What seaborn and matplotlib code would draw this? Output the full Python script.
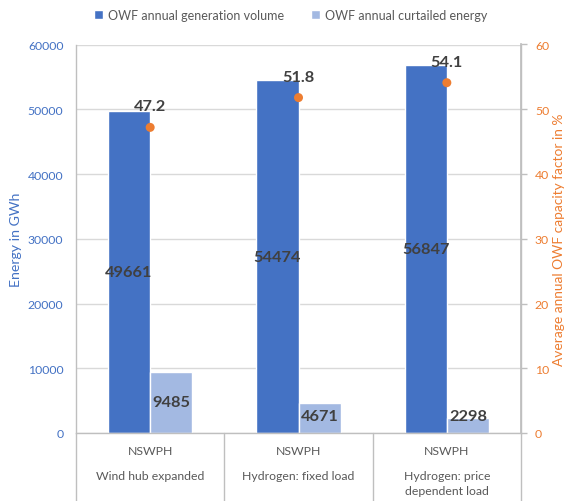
import matplotlib
matplotlib.use("Agg")
import matplotlib.pyplot as plt
import matplotlib.transforms as mtransforms
from matplotlib.lines import Line2D
from matplotlib.patches import Patch
import pandas as pd
import seaborn as sns

# --- data -------------------------------------------------------------
scenarios = ["Wind hub expanded", "Hydrogen: fixed load", "Hydrogen: price\ndependent load"]
hub_name = ["NSWPH", "NSWPH", "NSWPH"]
generation = [49661, 54474, 56847]          # GWh
curtailed = [9485, 4671, 2298]              # GWh
capacity_factor = [47.2, 51.8, 54.1]        # %
series_names = ["OWF annual generation volume", "OWF annual curtailed energy"]

# --- style ------------------------------------------------------------
sns.set_theme(style="white")
plt.rcParams["font.family"] = ["Lato", "DejaVu Sans"]

BLUE = "#4472C4"
LIGHT = "#A3B9E2"
ORANGE = "#ED7D31"
GRID = "#D9D9D9"
AXIS = "#BFBFBF"
TXT = "#595959"
LBL = "#404040"

df = pd.DataFrame({
    "scenario": scenarios * 2,
    "series": [series_names[0]] * 3 + [series_names[1]] * 3,
    "energy": generation + curtailed,
})

fig = plt.figure(figsize=(5.70, 5.02), dpi=100)
ax = fig.add_axes([76 / 570, 1 - 434 / 502, (521 - 76) / 570, (434 - 45.5) / 502])

sns.barplot(data=df, x="scenario", y="energy", hue="series", order=scenarios,
            hue_order=series_names, palette=[BLUE, LIGHT], width=0.57, gap=0,
            saturation=1, ax=ax, legend=False, errorbar=None)

ax.set_xlim(-0.5, 2.5)
ax.set_ylim(0, 60000)
ax.set_yticks(range(0, 60001, 10000))
ax.yaxis.grid(True, color=GRID, lw=1)
ax.set_axisbelow(True)
ax.tick_params(axis="y", colors=BLUE, labelsize=8.8, length=0, pad=9)
ax.set_xticks([])
ax.set_xlabel("")
ax.set_ylabel("Energy in GWh", color=BLUE, fontsize=10.2, labelpad=4)
ax.spines["top"].set_visible(False)
for side in ["left", "right", "bottom"]:
    ax.spines[side].set_color(AXIS)
    ax.spines[side].set_linewidth(1)

# value labels on bars
for container, values in zip(ax.containers, [generation, curtailed]):
    for patch, v in zip(container.patches, values):
        xc = patch.get_x() + patch.get_width() / 2
        yc = max(v / 2, 2600)
        ax.text(xc, yc, f"{v}", ha="center", va="center", fontsize=11.8,
                fontweight="bold", color=LBL)

# category dividers and labels below the axis
trans = mtransforms.blended_transform_factory(ax.transData, ax.transAxes)
for b in [-0.5, 0.5, 1.5, 2.5]:
    ax.add_line(Line2D([b, b], [0, -0.2], transform=trans, color=AXIS, lw=1, clip_on=False))
for i, (hub, sc) in enumerate(zip(hub_name, scenarios)):
    ax.annotate(hub, xy=(i, 0), xycoords=trans, xytext=(0, -18 * 0.72),
                textcoords="offset points", ha="center", va="center", fontsize=8.8, color=TXT)
    ax.annotate(sc, xy=(i, 0), xycoords=trans, xytext=(0, -37 * 0.72),
                textcoords="offset points", ha="center", va="top", fontsize=8.8,
                color=TXT, linespacing=1.45)

# capacity factor on secondary axis
ax2 = ax.twinx()
sns.scatterplot(x=[0, 1, 2], y=capacity_factor, color=ORANGE, s=42, edgecolor="none",
                ax=ax2, zorder=5)
ax2.set_ylim(0, 60)
ax2.set_xlim(-0.5, 2.5)
ax2.set_yticks(range(0, 61, 10))
ax2.tick_params(axis="y", colors=ORANGE, labelsize=8.8, length=4, width=1, pad=6)
ax2.tick_params(axis="y", color=AXIS)
for t in ax2.get_yticklabels():
    t.set_color(ORANGE)
ax2.set_ylabel("Average annual OWF capacity factor in %", color=ORANGE, fontsize=9.9, labelpad=3)
for side in ["top", "left", "bottom"]:
    ax2.spines[side].set_visible(False)
ax2.spines["right"].set_color(AXIS)
for i, cf in enumerate(capacity_factor):
    ax2.annotate(f"{cf}", xy=(i, cf), xytext=(0, 21 * 0.72), textcoords="offset points",
                 ha="center", va="center", fontsize=11.8, fontweight="bold", color=LBL)

# legend
handles = [Patch(facecolor=BLUE), Patch(facecolor=LIGHT)]
fig.legend(handles, series_names, loc="center", bbox_to_anchor=(0.51, 1 - 16 / 502),
           ncol=2, frameon=False, fontsize=9, handlelength=0.7, handleheight=0.7,
           handletextpad=0.4, columnspacing=2.2, labelcolor=TXT)

fig.savefig("out.png", dpi=100)
